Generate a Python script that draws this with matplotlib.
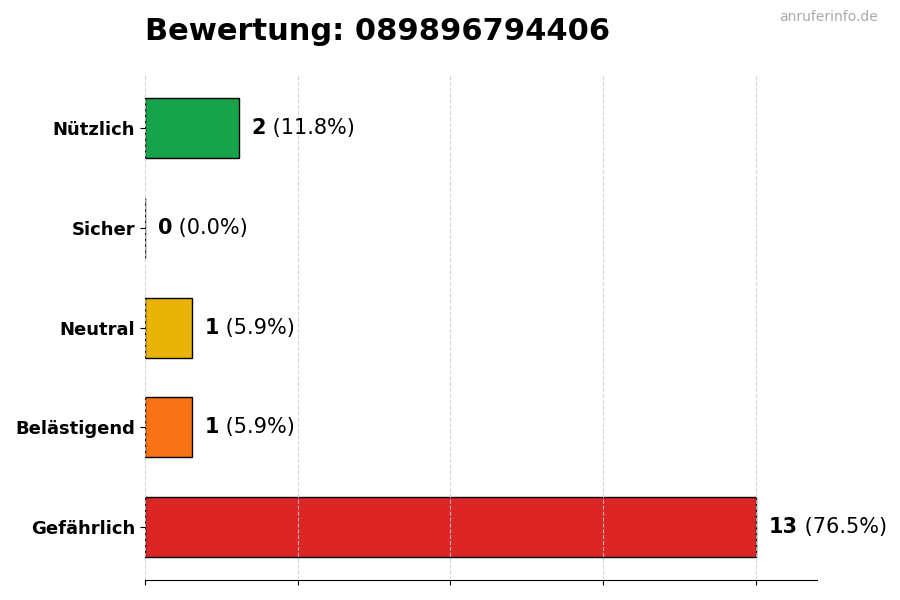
import matplotlib
matplotlib.use("Agg")
import matplotlib.pyplot as plt

categories = ["Gefährlich", "Belästigend", "Neutral", "Sicher", "Nützlich"]
values = [13, 1, 1, 0, 2]
colors = ["#dc2626", "#f97316", "#eab308", "#6b7280", "#16a34a"]
title = "Bewertung: 089896794406"
watermark = "anruferinfo.de"

total = sum(values)
fig = plt.figure(figsize=(9, 6), dpi=100)
ax = fig.add_axes([0.161, 0.033, 0.747, 0.842])
ypos = list(range(len(categories)))
ax.barh(ypos, values, height=0.6, color=colors, edgecolor="black", linewidth=1, zorder=1)
ax.set_yticks(ypos)
ax.set_yticklabels(categories, fontsize=13, fontweight="bold")
mx = max(values)
ax.set_xlim(0, mx * 1.1)
ax.set_xticks([mx * i / 4 for i in range(5)])
ax.set_xticklabels([])
ax.grid(axis="x", linestyle="--", color="#cccccc", alpha=0.8, zorder=3)
ax.set_axisbelow(False)
for s in ["top", "right", "left"]:
    ax.spines[s].set_visible(False)

for y, v in zip(ypos, values):
    pct = v / total * 100
    t = ax.text(v + mx * 0.021, y, f"{v}", va="center", ha="left", fontsize=15, fontweight="bold")
    ax.annotate(f" ({pct:.1f}%)", xycoords=t, xy=(1, 0.5), va="center", ha="left", fontsize=15)

fig.text(0.161, 0.948, title, fontsize=22, fontweight="bold", ha="left", va="center")
fig.text(0.975, 0.972, watermark, fontsize=10, color="#aaaaaa", ha="right", va="center")
fig.savefig("out.png", dpi=100)
